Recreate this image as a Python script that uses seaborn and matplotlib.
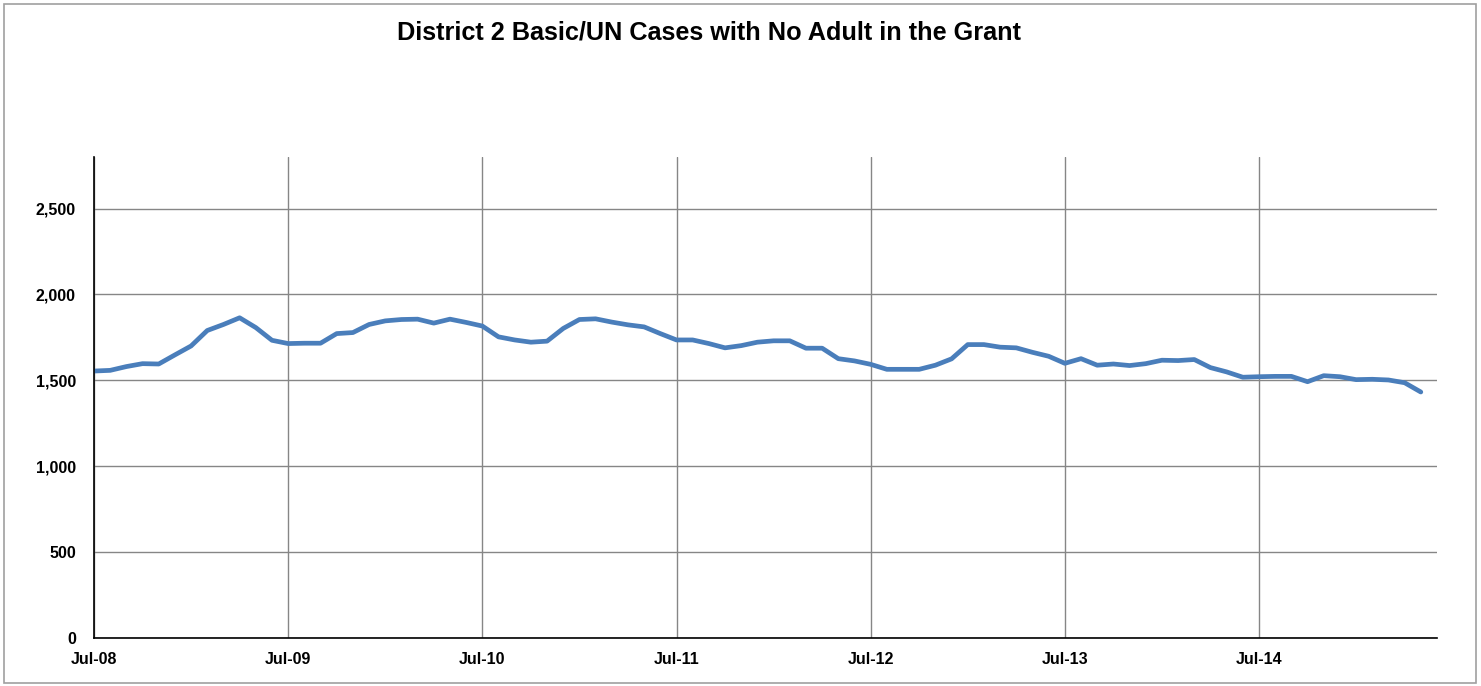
import numpy as np
import pandas as pd
import matplotlib
matplotlib.use("Agg")
import matplotlib.pyplot as plt
import seaborn as sns
from matplotlib.patches import Rectangle
from matplotlib.ticker import FuncFormatter

# monthly values, Jul-08 .. May-15
cases = [1554, 1558, 1580, 1597, 1595, 1648, 1700, 1790, 1825, 1864,
         1807, 1733, 1714, 1716, 1716, 1772, 1778, 1825, 1846, 1854,
         1856, 1833, 1856, 1837, 1816, 1753, 1735, 1722, 1728, 1802,
         1854, 1858, 1839, 1823, 1811, 1772, 1735, 1735, 1714, 1689,
         1702, 1722, 1730, 1730, 1687, 1687, 1626, 1613, 1593, 1564,
         1564, 1564, 1588, 1625, 1708, 1708, 1693, 1689, 1663, 1640,
         1599, 1626, 1588, 1595, 1586, 1597, 1617, 1615, 1621, 1574,
         1549, 1518, 1521, 1523, 1523, 1492, 1527, 1521, 1504, 1506,
         1502, 1486, 1432]
month_idx = list(range(len(cases)))
year_labels = ["Jul-08", "Jul-09", "Jul-10", "Jul-11", "Jul-12", "Jul-13", "Jul-14"]
y_ticks = [0, 500, 1000, 1500, 2000, 2500]

df = pd.DataFrame({"month": month_idx, "cases": cases})

sns.set_theme(style="white")
plt.rcParams["font.family"] = ["Liberation Sans", "DejaVu Sans"]

W, H = 1481, 686
fig = plt.figure(figsize=(W / 100, H / 100), dpi=100)
ax = fig.add_axes([94 / W, (H - 638) / H, (1437 - 94) / W, (638 - 157) / H])

sns.lineplot(data=df, x="month", y="cases", ax=ax, color="#4a7ebb", lw=3.4)

ax.set_xlim(0, 83)
ax.set_ylim(0, 2800)
ax.set_xticks([12 * i for i in range(len(year_labels))])
ax.set_xticklabels(year_labels)
ax.set_yticks(y_ticks)
ax.yaxis.set_major_formatter(FuncFormatter(lambda v, p: f"{int(v):,}"))

grid_c = "#868686"
ax.grid(True, color=grid_c, lw=1)
ax.set_axisbelow(True)
for s in ["top", "right"]:
    ax.spines[s].set_visible(False)
for s in ["left", "bottom"]:
    ax.spines[s].set_color("black")
    ax.spines[s].set_linewidth(1.2)

ax.tick_params(axis="both", length=3, width=1, color=grid_c, direction="out",
               labelsize=11.5, labelcolor="black")
ax.tick_params(axis="y", pad=10)
ax.tick_params(axis="x", pad=7)
for lbl in ax.get_xticklabels() + ax.get_yticklabels():
    lbl.set_fontweight("bold")
ax.set_xlabel("")
ax.set_ylabel("")

fig.text(709 / W, 1 - 33 / H, "District 2 Basic/UN Cases with No Adult in the Grant",
         ha="center", va="center", fontsize=18.2, fontweight="bold", color="black")

# outer chart border
fig.patches.append(Rectangle((4 / W, 3 / H), (1476 - 4) / W, (682 - 3) / H,
                             transform=fig.transFigure, fill=False,
                             edgecolor="#a0a0a0", lw=1.2))

fig.savefig("out.png", dpi=100)
